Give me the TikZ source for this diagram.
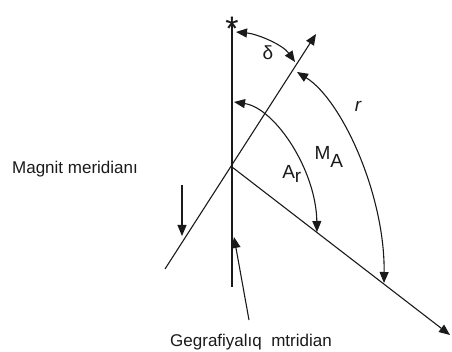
\documentclass[tikz,border=0pt]{standalone}
\usepackage{fontspec}
\setmainfont{Liberation Sans}
\usetikzlibrary{arrows.meta, positioning, calc}
\definecolor{Ink}{HTML}{1A1A1A}
\tikzset{
  lbl/.style={inner sep=0pt, font=\fontsize{17}{19}\selectfont, text=Ink},
  anglbl/.style={inner sep=0pt, font=\fontsize{19}{21}\selectfont, text=Ink},
  axis/.style={line width=1.3pt, draw=Ink},
}

\begin{document}
\begin{tikzpicture}[x=1pt, y=-1pt,
          arr/.style={-{Triangle[length=11pt, width=9pt]}, line width=1.1pt, draw=Ink},
          dbl/.style={{Triangle[length=11pt, width=9pt]}-{Triangle[length=11pt, width=9pt]}, line width=1.1pt, draw=Ink}
        ]
          \useasboundingbox (0,0) rectangle (452,352);
          % axes
          \coordinate (O) at (232,167);
          \coordinate (gN) at (232,24);
          \coordinate (gS) at (232,287);
          \coordinate (mS) at (165,269);
          \coordinate (mN) at (316,34);
          \coordinate (bE) at (450,335);
          \node[anglbl, font=\fontsize{34}{34}\selectfont] (star) at (232,29) {*};
          \draw[axis] (gN)--(gS);
          \draw[axis, arr] (mS)--(mN);
          \draw[axis, arr] (O)--(bE);
          % angle arcs
          \coordinate (d1) at (236,32);
          \coordinate (d2) at (295,62);
          \coordinate (a1) at (234,102);
          \coordinate (a2) at (317,232);
          \coordinate (m1) at (297,72);
          \coordinate (m2) at (384,283);
          \draw[dbl] (d1) .. controls (258,34) and (283,45) .. (d2);
          \draw[dbl] (a1) .. controls (275,108) and (316,170) .. (a2);
          \draw[dbl] (m1) .. controls (342,100) and (385,195) .. (m2);
          \node[anglbl] (delta) at (268,53) {δ};
          \node[anglbl] (Ar) at (292,174) {A$_{\textrm{r}}$};
          \node[anglbl] (MA) at (329,157) {M$_{\textrm{A}}$};
          \node[anglbl] (rr) at (358,106) {\itshape r};
          % meridian labels
          \node[lbl] (magn) at (75,169) {Magnit meridianı};
          \node[lbl] (geo) at (251,342) {Gegrafiyalıq\ \ mtridian};
          \coordinate (dTop) at (182,185);
          \coordinate (dBot) at (182,236);
          \coordinate (uBot) at (249,320);
          \coordinate (uTop) at (234,237);
          \draw[arr] (dTop)--(dBot);
          \draw[arr] (uBot)--(uTop);
        \end{tikzpicture}
\end{document}
